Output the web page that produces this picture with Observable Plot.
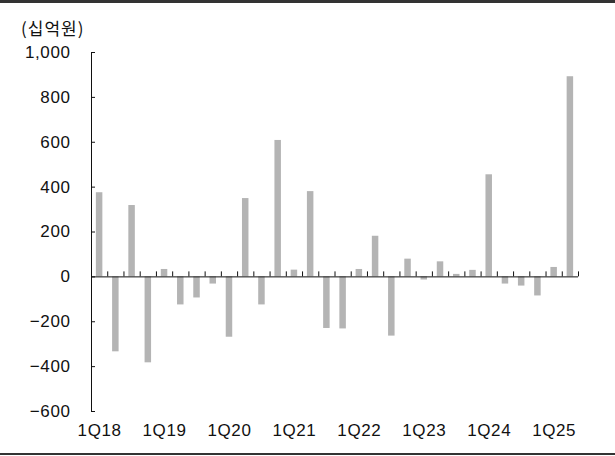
<!DOCTYPE html>
<html>
<head>
<meta charset="utf-8">
<script src="https://cdn.jsdelivr.net/npm/d3@7"></script>
<script src="https://cdn.jsdelivr.net/npm/@observablehq/plot@0.6"></script>
<style>
  html, body { margin: 0; padding: 0; background: #fff; }
  #wrap { position: relative; width: 615px; height: 456px; overflow: hidden; }
  #topbar { position: absolute; left: 0; top: 0; width: 615px; height: 3px; background: #333; }
  #botbar { position: absolute; left: 0; top: 453px; width: 615px; height: 2px; background: #333; }
  #unit { position: absolute; left: 21px; top: 15px; font-family: "Noto Sans CJK KR", sans-serif; font-size: 17px; letter-spacing: 1px; color: #111; }
  #chart { position: absolute; left: 0; top: 0; }
</style>
</head>
<body>
<div id="wrap">
  <div id="chart"></div>
  <div id="topbar"></div>
  <div id="botbar"></div>
  <div id="unit">(십억원)</div>
</div>
<script>
const quarters = [
  "1Q18","2Q18","3Q18","4Q18",
  "1Q19","2Q19","3Q19","4Q19",
  "1Q20","2Q20","3Q20","4Q20",
  "1Q21","2Q21","3Q21","4Q21",
  "1Q22","2Q22","3Q22","4Q22",
  "1Q23","2Q23","3Q23","4Q23",
  "1Q24","2Q24","3Q24","4Q24",
  "1Q25","2Q25"
];
const values = [
  375, -334, 318, -383,
  33, -125, -94, -32,
  -269, 349, -125, 608,
  30, 380, -230, -232,
  33, 181, -264, 79,
  -14, 67, 11, 29,
  455, -32, -41, -85,
  42, 892
];
const xTickLabels = ["1Q18","1Q19","1Q20","1Q21","1Q22","1Q23","1Q24","1Q25"];
const yTicks = [-600, -400, -200, 0, 200, 400, 600, 800, 1000];

const W = 615, H = 456;
const mL = 91, mR = 37, mT = 52, mB = 45;
const n = quarters.length;
const data = quarters.map((q, i) => ({q, i, v: values[i]}));
const yMin = d3.min(yTicks), yMax = d3.max(yTicks);
const step = (W - mL - mR) / n;
const unitsPerPxY = (yMax - yMin) / (H - mT - mB);
const unitsPerPxX = n / (W - mL - mR);
const labelPos = xTickLabels.map(l => quarters.indexOf(l) + 0.5);
const inset = step * 0.3;

const chart = Plot.plot({
  width: W,
  height: H,
  marginLeft: mL,
  marginRight: mR,
  marginTop: mT,
  marginBottom: mB,
  style: {fontFamily: "'Liberation Sans', Arial, sans-serif", fontSize: "17px", color: "#111", background: "transparent", letterSpacing: "0.6px"},
  x: {type: "linear", domain: [0, n], axis: null},
  y: {domain: [yMin, yMax], axis: null},
  marks: [
    Plot.rectY(data, {x1: "i", x2: d => d.i + 1, y1: 0, y2: "v", fill: "#b4b4b4", insetLeft: inset, insetRight: inset}),
    Plot.ruleY([0], {x1: 0, x2: n, stroke: "#111"}),
    Plot.ruleX([0], {y1: yMin, y2: yMax, stroke: "#111"}),
    Plot.ruleX(d3.range(1, n + 1), {x: d => d, y1: 0, y2: 5 * unitsPerPxY, stroke: "#111"}),
    Plot.ruleY(yTicks, {y: d => d, x1: 0, x2: 4 * unitsPerPxX, stroke: "#111"}),
    Plot.axisY(yTicks, {anchor: "left", label: null, tickSize: 0, tickPadding: 21, tickFormat: d3.format(","), fill: "#111"}),
    Plot.axisX(labelPos, {anchor: "bottom", label: null, tickSize: 0, tickPadding: 12, tickFormat: (d, i) => xTickLabels[i], fill: "#111"})
  ]
});
document.getElementById("chart").appendChild(chart);
</script>
</body>
</html>
